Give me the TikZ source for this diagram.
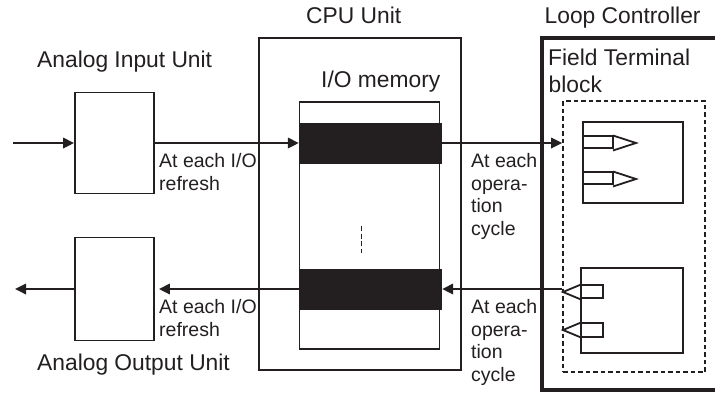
\documentclass[tikz,border=0pt]{standalone}
\usepackage{fontspec}
\setmainfont{Liberation Sans}
\usetikzlibrary{arrows.meta,positioning}
\definecolor{ink}{RGB}{35,31,32}
\tikzset{
  big/.style={font={\fontsize{22.8}{27}\selectfont}, text=ink, inner sep=0pt, anchor=base west},
  small/.style={font={\fontsize{19.5}{22.7}\selectfont}, text=ink, inner sep=0pt, anchor=north west, align=left},
  box/.style={draw=ink, line width=1.9pt, inner sep=0pt},
  bar/.style={fill=ink, draw=none, inner sep=0pt},
  conn/.style={draw=ink, line width=1.8pt, -{Triangle[length=11pt,width=10.5pt]}},
  ptr/.style={draw=ink, line width=1.8pt, line join=miter},
}
\begin{document}
\begin{tikzpicture}[x=1pt,y=-1pt]
\useasboundingbox (0,0) rectangle (715,392);
\clip (0,0) rectangle (715,392);

% boxes
\node[box, minimum width=79pt, minimum height=101pt] (ain) at (114.5,143) {};
\node[box, minimum width=79pt, minimum height=103pt] (aout) at (114.5,289) {};
\node[box, minimum width=202pt, minimum height=332pt] (cpu) at (360,204) {};
\node[box, line width=1.4pt, minimum width=140pt, minimum height=247pt] (mem) at (369.5,225.5) {};
\node[bar, minimum width=143pt, minimum height=41pt] (bar1) at (370.5,143) {};
\node[bar, minimum width=143pt, minimum height=41pt] (bar2) at (370.5,289) {};
\node[draw=ink, line width=4pt, inner sep=0pt, minimum width=188pt, minimum height=352pt] (loop) at (636,214) {};
\node[draw=ink, line width=1.6pt, dash pattern=on 4.5pt off 3pt, inner sep=0pt, minimum width=142pt, minimum height=271pt] (ftb) at (634,236.5) {};
\node[box, line width=1.7pt, minimum width=100pt, minimum height=81pt] (ib1) at (633,162.5) {};
\node[box, line width=1.7pt, minimum width=102pt, minimum height=85pt] (ib2) at (632,310.5) {};

% dashed mark in memory
\coordinate (dm1) at (361,226);
\coordinate (dm2) at (361,253);
\draw[ink, line width=1pt, dash pattern=on 5pt off 2.5pt] (dm1) -- (dm2);

% pointer shapes (upper: pointing right)
\draw[ptr] (583,136) rectangle (613,148);
\draw[ptr] (613,135.5) -- (636,143) -- (613,150.5);
\draw[ptr] (583,172) rectangle (613,184);
\draw[ptr] (613,171.5) -- (636,179) -- (613,186.5);
% lower: pointing left
\draw[ptr] (581,285) rectangle (603,298);
\draw[ptr] (581,284.5) -- (563,292) -- (581,299.5);
\draw[ptr] (581,323) rectangle (603,337);
\draw[ptr] (581,322.5) -- (563,330) -- (581,337.5);

% connectors
\coordinate (inA) at (13,143);
\coordinate (outA) at (15,289);
\draw[conn] (inA) -- (ain.west);
\draw[conn] (ain.east) -- (bar1.west);
\draw[conn] (bar1.east) -- (ftb.west |- bar1.east);
\draw[conn] (ftb.west |- bar2.east) -- (bar2.east);
\draw[conn, shorten >=4pt] (bar2.west) -- (aout.east);
\draw[conn] (aout.west) -- (outA);

% labels
\node[big] (lcpu) at (306,23) {CPU Unit};
\node[big] (lloop) at (544.5,23) {Loop Controller};
\node[big] (lain) at (37,67) {Analog Input Unit};
\node[big] (lmem) at (321,87) {I/O memory};
\node[big] (lftb1) at (548,65) {Field Terminal};
\node[big] (lftb2) at (548.5,92) {block};
\node[big] (laout) at (37,370) {Analog Output Unit};

\node[small] (t1) at (159,153) {At each I/O\\refresh};
\node[small] (t2) at (159,299) {At each I/O\\refresh};
\node[small] (t3) at (471,153) {At each\\opera-\\tion\\cycle};
\node[small] (t4) at (471,299) {At each\\opera-\\tion\\cycle};
\end{tikzpicture}
\end{document}
